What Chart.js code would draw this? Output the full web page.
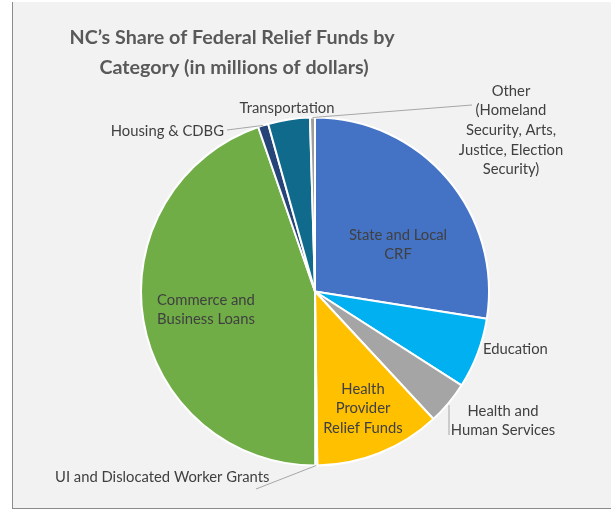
<!DOCTYPE html>
<html lang="en">
<head>
    <meta charset="UTF-8">
    <title>NC Federal Relief Funds</title>
    <script src="https://cdn.jsdelivr.net/npm/chart.js"></script>
    <style>
        body { margin: 0; background: #fff; }
        .panel {
            position: absolute; left: 12px; top: 2px; width: 599px; height: 506px;
            background: #f2f2f2; border-left: 1px solid #8c8c8c; border-bottom: 1px solid #8c8c8c;
        }
        #chart { position: absolute; left: 0; top: 0; }
    </style>
</head>
<body>
    <div class="panel"></div>
    <canvas id="chart" width="611" height="510"></canvas>

    <script>
        // data (millions of dollars)
        const categories = ['State and Local CRF', 'Education', 'Health and Human Services',
            'Health Provider Relief Funds', 'UI and Dislocated Worker Grants',
            'Commerce and Business Loans', 'Housing & CDBG', 'Transportation',
            'Other (Homeland Security, Arts, Justice, Election Security)'];
        const values = [3585, 855, 525, 1525, 25, 5830, 125, 505, 60];
        const colors = ['#4472C4', '#00B0F0', '#A5A5A5', '#FFC000', '#5B9BD5',
            '#70AD47', '#264478', '#0F6A8C', '#9E9E9E'];

        // label layout: lines, anchor point, alignment, leader end (or null)
        const labelLayout = [
            { lines: ['State and Local', 'CRF'], x: 398, y: 235, align: 'center' },
            { lines: ['Education'], x: 483, y: 349, align: 'left' },
            { lines: ['Health and', 'Human Services'], x: 503, y: 411, align: 'center', leader: [[449, 405], [449, 435]] },
            { lines: ['Health', 'Provider', 'Relief Funds'], x: 363, y: 389, align: 'center' },
            { lines: ['UI and Dislocated Worker Grants'], x: 55, y: 477, align: 'left', leader: [[256, 489]] },
            { lines: ['Commerce and', 'Business Loans'], x: 206, y: 300, align: 'center' },
            { lines: ['Housing & CDBG'], x: 224, y: 131, align: 'right', leader: [[227, 130]] },
            { lines: ['Transportation'], x: 287, y: 108, align: 'center' },
            { lines: ['Other', '(Homeland', 'Security, Arts,', 'Justice, Election', 'Security)'], x: 511, y: 91, align: 'center', leader: [[472, 105]] }
        ];

        const labelFont = '14.8px Lato';
        const textColor = '#404040';

        const labelPlugin = {
            id: 'labels',
            afterDraw(chart) {
                const ctx = chart.ctx;
                const arcs = chart.getDatasetMeta(0).data;
                ctx.save();

                // title
                ctx.fillStyle = '#595959';
                ctx.font = 'bold 19.7px Lato';
                ctx.textAlign = 'center';
                ctx.textBaseline = 'middle';
                ctx.fillText('NC\u2019s Share of Federal Relief Funds by', 232, 38);
                ctx.fillText('Category (in millions of dollars)', 234, 68);

                ctx.font = labelFont;
                labelLayout.forEach((lab, i) => {
                    const arc = arcs[i];
                    if (lab.leader) {
                        ctx.strokeStyle = '#a6a6a6';
                        ctx.lineWidth = 1;
                        ctx.beginPath();
                        if (lab.leader.length === 2) {
                            ctx.moveTo(lab.leader[0][0], lab.leader[0][1]);
                            ctx.lineTo(lab.leader[1][0], lab.leader[1][1]);
                        } else {
                            const mid = (arc.startAngle + arc.endAngle) / 2;
                            ctx.moveTo(arc.x + Math.cos(mid) * arc.outerRadius, arc.y + Math.sin(mid) * arc.outerRadius);
                            ctx.lineTo(lab.leader[0][0], lab.leader[0][1]);
                        }
                        ctx.stroke();
                    }
                    ctx.fillStyle = textColor;
                    ctx.textAlign = lab.align;
                    lab.lines.forEach((t, k) => ctx.fillText(t, lab.x, lab.y + k * 19.6));
                });
                ctx.restore();
            }
        };

        new Chart(document.getElementById('chart'), {
            type: 'pie',
            data: {
                labels: categories,
                datasets: [{
                    data: values,
                    backgroundColor: colors,
                    borderColor: '#ffffff',
                    borderWidth: 2
                }]
            },
            options: {
                responsive: false,
                animation: false,
                layout: { padding: { left: 140, right: 121, top: 116, bottom: 43 } },
                plugins: {
                    legend: { display: false },
                    tooltip: { enabled: false },
                    title: { display: false }
                }
            },
            plugins: [labelPlugin]
        });
    </script>
</body>
</html>
